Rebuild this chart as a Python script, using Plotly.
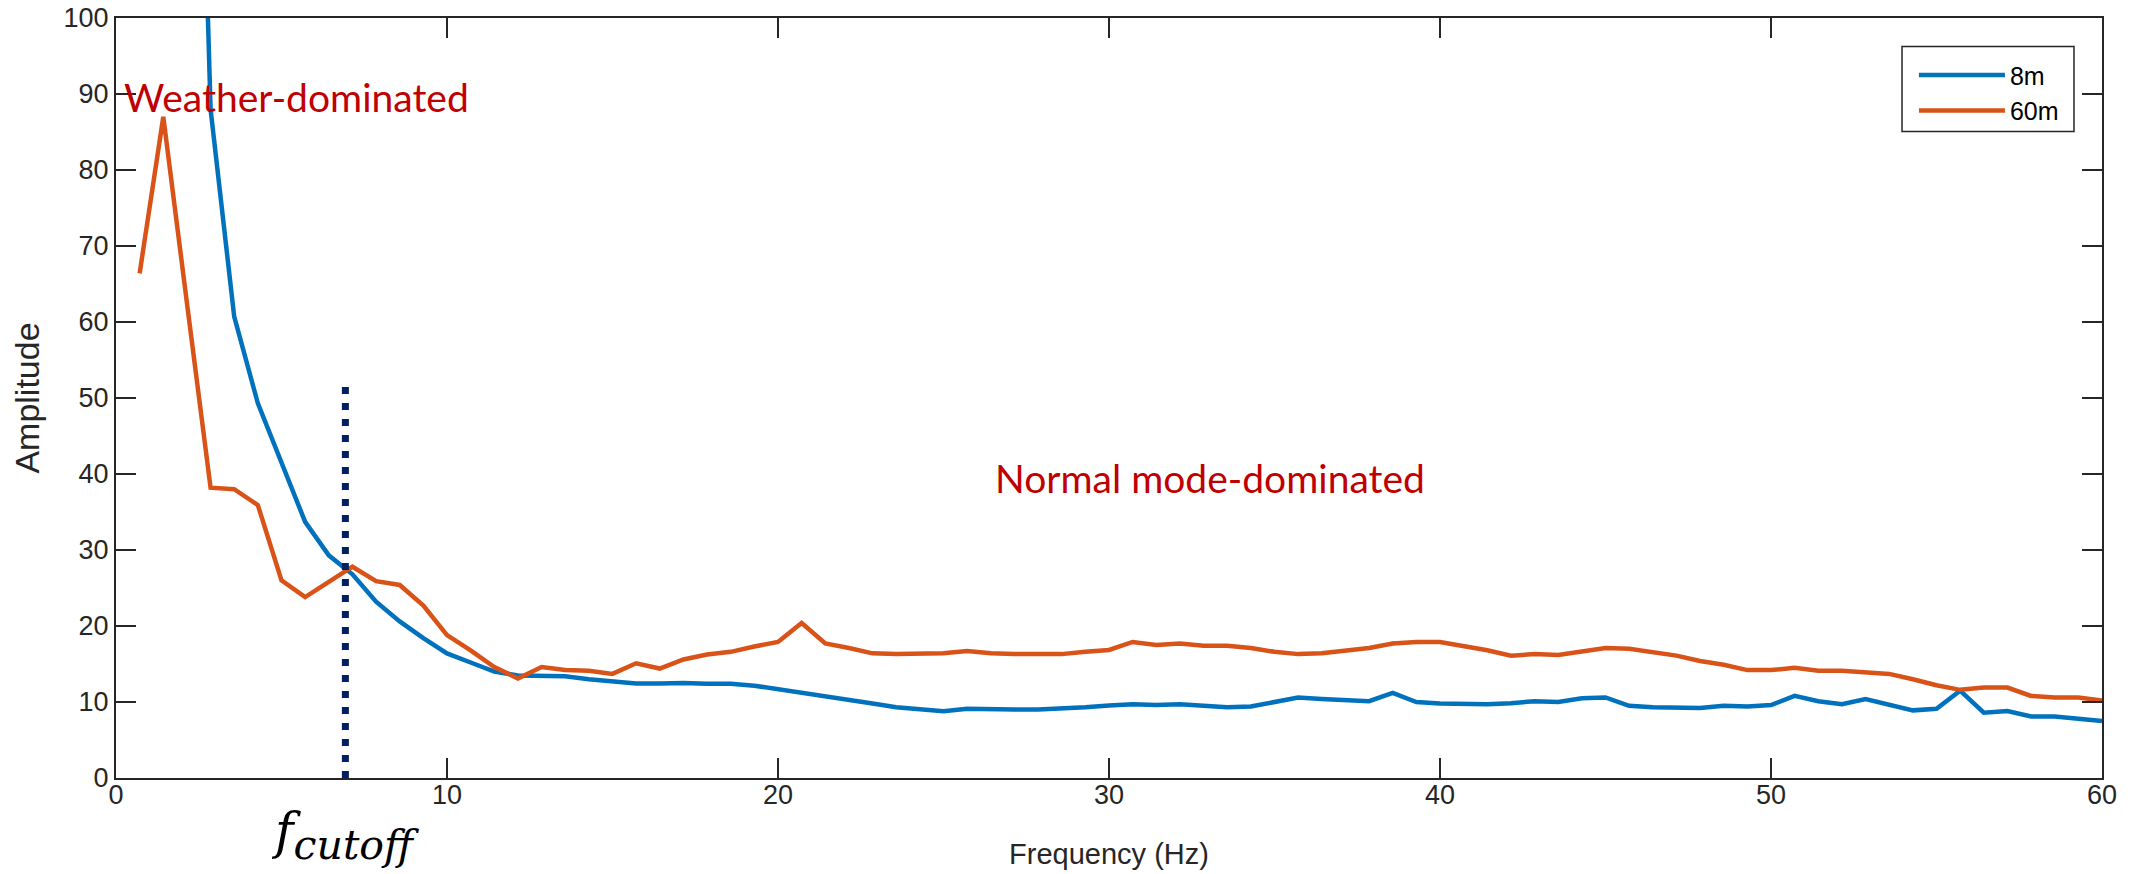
import plotly.graph_objects as go

# ---- data ----
n_bins = 84
f_max = 60.0
freq = [round(k * f_max / n_bins, 4) for k in range(1, n_bins + 1)]

amp_8m = [520, 330, 195, 88.0, 60.7, 49.3, 41.3, 33.7, 29.3, 26.8,
          23.2, 20.6, 18.4, 16.4, 15.2, 14.0, 13.5, 13.4, 13.4, 13.0,
          12.7, 12.45, 12.45, 12.5, 12.4, 12.4, 12.15, 11.7, 11.2, 10.8,
          10.3, 9.8, 9.3, 9.0, 8.8, 9.1, 9.0, 9.0, 9.0, 9.1,
          9.3, 9.55, 9.7, 9.6, 9.7, 9.5, 9.3, 9.4, 10.0, 10.6,
          10.4, 10.2, 10.1, 11.2, 10.0, 9.8, 9.7, 9.7, 9.85, 10.1,
          10.0, 10.5, 10.6, 9.5, 9.3, 9.2, 9.2, 9.5, 9.4, 9.6,
          10.8, 10.1, 9.7, 10.4, 9.6, 8.9, 9.1, 11.5, 8.6, 8.8,
          8.1, 8.1, 7.8, 7.5]

amp_60m = [66.4, 87.0, 62.5, 38.2, 38.0, 35.9, 26.0, 23.8, 25.8, 27.8,
           25.9, 25.4, 22.7, 18.8, 16.8, 14.6, 13.1, 14.6, 14.2, 14.1,
           13.7, 15.1, 14.4, 15.6, 16.25, 16.6, 17.3, 17.9, 20.4, 17.7,
           17.1, 16.4, 16.3, 16.3, 16.4, 16.7, 16.4, 16.3, 16.3, 16.3,
           16.6, 16.85, 17.9, 17.5, 17.7, 17.4, 17.4, 17.1, 16.6, 16.3,
           16.4, 16.8, 17.1, 17.7, 17.9, 17.9, 17.4, 16.8, 16.1, 16.3,
           16.2, 16.6, 17.1, 17.0, 16.5, 16.1, 15.4, 14.9, 14.2, 14.2,
           14.5, 14.1, 14.1, 13.9, 13.7, 13.0, 12.2, 11.6, 11.9, 11.9,
           10.8, 10.6, 10.6, 10.2]

series_names = ["8m", "60m"]
f_cutoff = 6.93
cutoff_line_top = 51.7
x_ticks = [0, 10, 20, 30, 40, 50, 60]
y_ticks = [0, 10, 20, 30, 40, 50, 60, 70, 80, 90, 100]

# ---- styles ----
BLUE = "#0072BD"
ORANGE = "#D95319"
NAVY = "#00205F"
AXC = "#262626"
RED = "#C00000"

fig = go.Figure()
fig.add_trace(go.Scatter(x=freq, y=amp_8m, mode="lines", name=series_names[0],
                         legendgroup="g1", line=dict(color=BLUE, width=4.5)))
fig.add_trace(go.Scatter(x=freq, y=amp_60m, mode="lines", name=series_names[1],
                         legendgroup="g2", line=dict(color=ORANGE, width=4.5)))
fig.add_trace(go.Scatter(x=[f_cutoff, f_cutoff], y=[0, cutoff_line_top], mode="lines",
                         showlegend=False, hoverinfo="skip",
                         line=dict(color=NAVY, width=7, dash="7px,9px")))

axis_common = dict(
    showline=True, linecolor=AXC, linewidth=2, mirror="ticks",
    ticks="inside", ticklen=20, tickwidth=2, tickcolor=AXC,
    showgrid=False, zeroline=False, automargin=False,
    tickfont=dict(family="Liberation Sans, Arial", size=27, color=AXC),
)

fig.update_xaxes(range=[0, 60], tickvals=x_ticks, ticklabelstandoff=-8,
                 title=dict(text="Frequency (Hz)", standoff=34,
                            font=dict(family="Liberation Sans, Arial", size=29, color=AXC)),
                 **axis_common)
fig.update_yaxes(range=[0, 100], tickvals=y_ticks,
                 title=dict(text="Amplitude", standoff=14,
                            font=dict(family="Liberation Sans, Arial", size=34, color=AXC)),
                 **axis_common)

fig.add_annotation(x=0.17, y=89.6, xref="x", yref="y", text="Weather-dominated",
                   showarrow=False, xanchor="left", yanchor="middle",
                   font=dict(family="Lato", size=39, color=RED))
fig.add_annotation(x=26.5, y=39.5, xref="x", yref="y", text="Normal mode-dominated",
                   showarrow=False, xanchor="left", yanchor="middle",
                   font=dict(family="Lato", size=39, color=RED))
fig.add_annotation(x=f_cutoff, y=-0.076, xref="x", yref="paper",
                   text="<i>f</i><sub><span style='font-size:41px'><i>cutoff</i></span></sub>",
                   showarrow=False, xanchor="center", yanchor="middle",
                   font=dict(family="DejaVu Serif", size=50, color="#000000"))

# legend frame
fig.add_shape(type="rect", xref="paper", yref="paper",
              x0=0.8993, x1=0.9859, y0=0.8507, y1=0.9625,
              line=dict(color=AXC, width=1.5), fillcolor="white", layer="above")

fig.update_layout(
    width=2141, height=874,
    margin=dict(l=116, r=39, t=18, b=96, autoexpand=False),
    plot_bgcolor="white", paper_bgcolor="white",
    legend=dict(x=0.9053, y=0.955, xanchor="left", yanchor="top",
                bgcolor="rgba(0,0,0,0)", borderwidth=0,
                font=dict(family="Liberation Sans, Arial", size=25, color="#000000"),
                itemwidth=86, tracegroupgap=0),
    showlegend=True,
)

fig.write_html("out.html")
